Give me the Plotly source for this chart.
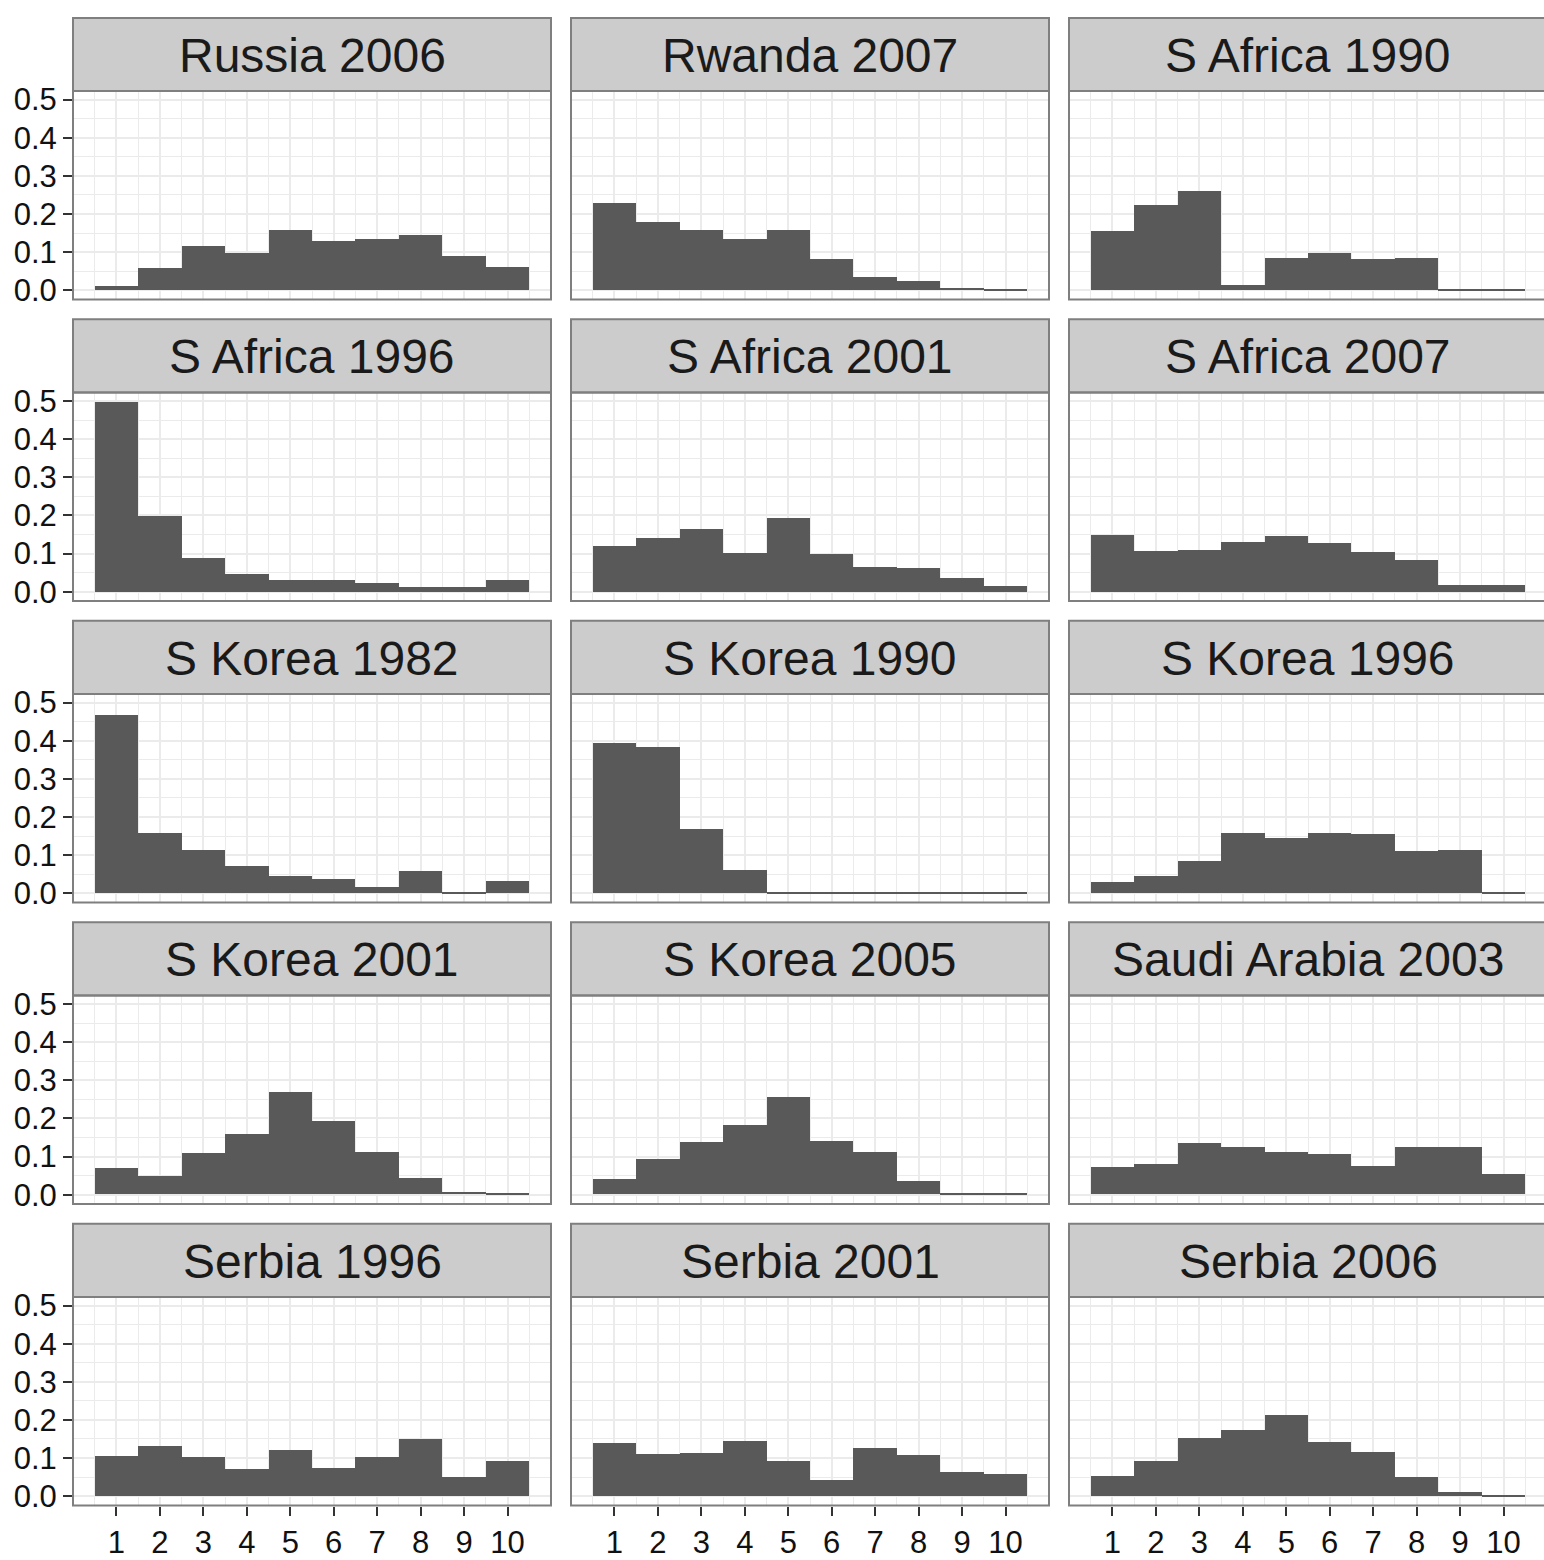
import plotly.graph_objects as go

# ---- data (share of respondents per score 1..10) ----
scores = list(range(1, 11))
score_labels = [str(s) for s in scores]
y_ticks = [0.0, 0.1, 0.2, 0.3, 0.4, 0.5]
y_tick_labels = ["0.0", "0.1", "0.2", "0.3", "0.4", "0.5"]

russia_2006 = [0.012, 0.059, 0.116, 0.098, 0.158, 0.129, 0.134, 0.145, 0.090, 0.062]
rwanda_2007 = [0.228, 0.179, 0.158, 0.134, 0.158, 0.081, 0.036, 0.023, 0.007, 0.002]
s_africa_1990 = [0.155, 0.223, 0.259, 0.015, 0.085, 0.098, 0.082, 0.085, 0.002, 0.002]
s_africa_1996 = [0.500, 0.200, 0.091, 0.049, 0.033, 0.033, 0.025, 0.015, 0.015, 0.033]
s_africa_2001 = [0.121, 0.142, 0.165, 0.103, 0.194, 0.100, 0.066, 0.063, 0.037, 0.017]
s_africa_2007 = [0.150, 0.108, 0.110, 0.131, 0.147, 0.129, 0.105, 0.084, 0.019, 0.019]
s_korea_1982 = [0.467, 0.159, 0.114, 0.072, 0.046, 0.038, 0.017, 0.057, 0.002, 0.033]
s_korea_1990 = [0.394, 0.383, 0.169, 0.062, 0.002, 0.002, 0.002, 0.002, 0.002, 0.002]
s_korea_1996 = [0.030, 0.046, 0.085, 0.159, 0.145, 0.159, 0.156, 0.112, 0.114, 0.002]
s_korea_2001 = [0.069, 0.048, 0.108, 0.158, 0.268, 0.192, 0.111, 0.043, 0.006, 0.004]
s_korea_2005 = [0.040, 0.092, 0.137, 0.181, 0.255, 0.140, 0.111, 0.035, 0.003, 0.003]
saudi_arabia_2003 = [0.072, 0.080, 0.134, 0.124, 0.111, 0.106, 0.074, 0.124, 0.124, 0.053]
serbia_1996 = [0.105, 0.131, 0.103, 0.071, 0.121, 0.074, 0.103, 0.150, 0.050, 0.092]
serbia_2001 = [0.139, 0.110, 0.113, 0.144, 0.092, 0.043, 0.126, 0.108, 0.064, 0.058]
serbia_2006 = [0.053, 0.092, 0.152, 0.173, 0.212, 0.142, 0.116, 0.050, 0.011, 0.003]

panel_titles = [
    "Russia 2006", "Rwanda 2007", "S Africa 1990",
    "S Africa 1996", "S Africa 2001", "S Africa 2007",
    "S Korea 1982", "S Korea 1990", "S Korea 1996",
    "S Korea 2001", "S Korea 2005", "Saudi Arabia 2003",
    "Serbia 1996", "Serbia 2001", "Serbia 2006",
]
panel_values = [
    russia_2006, rwanda_2007, s_africa_1990,
    s_africa_1996, s_africa_2001, s_africa_2007,
    s_korea_1982, s_korea_1990, s_korea_1996,
    s_korea_2001, s_korea_2005, saudi_arabia_2003,
    serbia_1996, serbia_2001, serbia_2006,
]

# ---- layout geometry (pixels) ----
W, H = 1544, 1560
PANEL_W = 478
COL_PITCH = 498
LEFT0 = 73
STRIP_H = 74
PANEL_H = 211
ROW_PITCH = 305
TOP0 = 10
X_RANGE = 11.0
Y_RANGE = [-0.0245, 0.5225]

FONT = "Liberation Sans, Arial, Helvetica, sans-serif"
BAR_COLOR = "#595959"
GRID = "#EBEBEB"
BORDER = "#7F7F7F"
STRIP_FILL = "#CCCCCC"

fig = go.Figure()
layout = dict(
    width=W, height=H, autosize=False,
    margin=dict(l=0, r=0, t=0, b=0, pad=0),
    paper_bgcolor="white", plot_bgcolor="white",
    bargap=0, showlegend=False,
    font=dict(family=FONT, color="#111111"),
)
shapes = []
annotations = []

for i, (title, vals) in enumerate(zip(panel_titles, panel_values)):
    r, c = divmod(i, 3)
    n = i + 1
    xa = "x" if n == 1 else f"x{n}"
    ya = "y" if n == 1 else f"y{n}"
    left = LEFT0 + COL_PITCH * c
    right = left + PANEL_W
    vis_right = min(right, W)
    st = TOP0 + ROW_PITCH * r
    pt = st + STRIP_H
    pb = pt + PANEL_H

    fig.add_trace(go.Bar(
        x=scores, y=vals, width=1.0,
        xaxis=xa, yaxis=ya,
        marker=dict(color=BAR_COLOR, line=dict(width=0)),
        showlegend=False,
        hovertemplate=title + "<br>%{x}: %{y:.3f}<extra></extra>",
    ))

    bottom_row = (r == 4)
    left_col = (c == 0)
    layout["xaxis" if n == 1 else f"xaxis{n}"] = dict(
        domain=[left / W, vis_right / W],
        range=[0, X_RANGE * (vis_right - left) / PANEL_W],
        anchor=ya,
        tickmode="array", tickvals=scores, ticktext=score_labels,
        showticklabels=bottom_row,
        ticks="outside" if bottom_row else "",
        ticklen=9, tickwidth=2, tickcolor="#333333",
        tickfont=dict(family=FONT, size=31, color="#111111"),
        showgrid=True, gridcolor=GRID, gridwidth=2,
        minor=dict(tickvals=[s - 0.5 for s in scores] + [10.5],
                   showgrid=True, gridcolor=GRID, gridwidth=1),
        zeroline=False, showline=False, fixedrange=True,
    )
    layout["yaxis" if n == 1 else f"yaxis{n}"] = dict(
        domain=[1 - pb / H, 1 - pt / H],
        range=Y_RANGE,
        anchor=xa,
        tickmode="array", tickvals=y_ticks, ticktext=y_tick_labels,
        showticklabels=left_col,
        ticks="outside" if left_col else "",
        ticklen=9, tickwidth=2, tickcolor="#333333",
        tickfont=dict(family=FONT, size=31, color="#111111"),
        showgrid=True, gridcolor=GRID, gridwidth=2,
        minor=dict(tickvals=[v + 0.05 for v in y_ticks[:-1]],
                   showgrid=True, gridcolor=GRID, gridwidth=1),
        zeroline=False, showline=False, fixedrange=True,
    )

    # strip
    shapes.append(dict(type="rect", xref="paper", yref="paper",
                       x0=left / W, x1=right / W,
                       y0=1 - pt / H, y1=1 - st / H,
                       fillcolor=STRIP_FILL, line=dict(color=BORDER, width=2),
                       layer="above"))
    # panel border
    shapes.append(dict(type="rect", xref="paper", yref="paper",
                       x0=left / W, x1=right / W,
                       y0=1 - pb / H, y1=1 - pt / H,
                       fillcolor="rgba(0,0,0,0)", line=dict(color=BORDER, width=2),
                       layer="above"))
    annotations.append(dict(
        text=title, xref="paper", yref="paper",
        x=(left + right) / 2 / W, y=1 - (st + STRIP_H / 2 + 1) / H,
        xanchor="center", yanchor="middle", showarrow=False,
        font=dict(family=FONT, size=48, color="#1A1A1A"),
    ))

layout["shapes"] = shapes
layout["annotations"] = annotations
fig.update_layout(**layout)

# pin the figure to the window's top-left corner, with no page margins or scrolling
page_fix = (
    "document.documentElement.style.margin='0';"
    "document.documentElement.style.padding='0';"
    "document.documentElement.style.overflow='hidden';"
    "document.body.style.margin='0';"
    "document.body.style.padding='0';"
    "document.body.style.overflow='hidden';"
    "var gd=document.getElementById('{plot_id}');"
    "gd.style.position='fixed';gd.style.left='0px';gd.style.top='0px';"
)
fig.write_html("out.html", post_script=page_fix,
               config={"displayModeBar": False, "responsive": False})
